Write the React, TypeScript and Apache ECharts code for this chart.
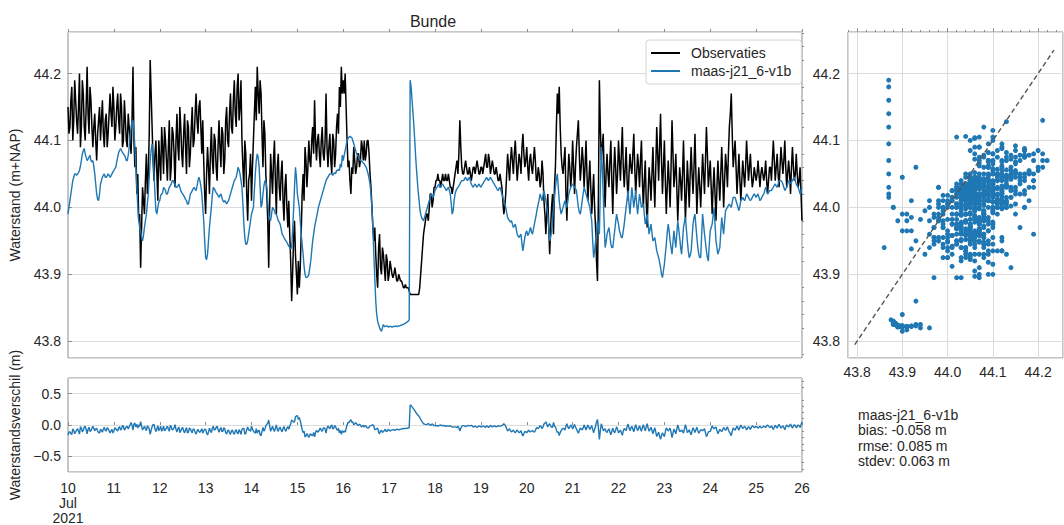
import { useEffect, useRef } from "react";
import * as echarts from "echarts";

// ---- texts ----
const stationName = "Bunde";
const observationLabel = "Observaties";
const modelLabel = "maas-j21_6-v1b";
const levelAxisName = "Waterstand (m+NAP)";
const diffAxisName = "Waterstandsverschil (m)";
const statLines = ["maas-j21_6-v1b", "bias: -0.058 m", "rmse: 0.085 m", "stdev: 0.063 m"];

// ---- time axis: hours counted from 10 Jul 2021 00:00 ----
const firstDay = 10;
const monthLabel = "Jul";
const yearLabel = "2021";
const hoursPerDay = 24;

// ---- axis ranges and ticks ----
const levelTicks = [43.8, 43.9, 44.0, 44.1, 44.2];
const levelRange = [43.775, 44.262];
const scatterXRange = [43.78, 44.255];
const diffTicks = [-0.5, 0, 0.5];
const diffMinorTicks = [-0.7, -0.6, -0.4, -0.3, -0.2, -0.1, 0.1, 0.2, 0.3, 0.4, 0.6, 0.7];
const diffRange = [-0.75, 0.75];
const oneToOneLine = [43.795, 44.235];

// ---- observed water level (m+NAP), on the hour (00:00 ... 26 Jul 00:00) ----
const observedOnHour = [
  44.15, 44.12, 44.18, 44.13, 44.16, 44.11, 44.2, 44.12, 44.17, 44.1, 44.21, 44.11, 44.16, 44.09, 44.14, 44.07, 44.13, 44.1, 44.16, 44.09, 44.14, 44.11, 44.17, 44.12, 44.15,
  44.12, 44.17, 44.11, 44.15, 44.1, 44.13, 44.09, 44.12, 44.08, 44.21, 44.06, 44.02, 43.98, 43.91, 44.03, 43.99, 44.08, 44.05, 44.22, 44.12, 44.04, 44.1, 44.01, 44.07,
  44.12, 44.05, 44.1, 44.04, 44.13, 44.06, 44.11, 44.03, 44.14, 44.07, 44.12, 44.06, 44.14, 44.05, 44.12, 44.08, 44.15, 44.1, 44.17, 44.11, 44.16, 44.08, 44.07, 43.99,
  44.09, 44.02, 44.12, 44.05, 44.1, 44.04, 44.13, 44.06, 44.11, 44.07, 44.15, 44.09, 44.17, 44.11, 44.19, 44.12, 44.2, 44.15, 44.1, 44.03, 44.08, 43.98, 44.05, 44.01,
  44.1, 44.18, 44.21, 44.14, 44.17, 44.06, 44.11, 44.02, 43.91, 44.08, 44.02, 44.1, 43.99, 44.08, 44.01, 44.07, 43.98, 44.05, 43.97, 43.96, 43.86, 43.95, 43.93, 43.87,
  43.88, 43.96, 44.05, 44.09, 44.03, 44.1, 44.06, 44.12, 44.16, 44.07, 44.11, 44.06, 44.12, 44.07, 44.17, 44.06, 44.11, 44.05, 44.1, 44.08, 44.14, 44.18, 44.21, 44.19,
  44.2, 44.1, 44.07, 44.02, 44.05, 44.07, 44.06, 44.08, 44.07, 44.09, 44.1, 44.08, 44.1, 44.05, 44.0, 43.95, 43.93, 43.88, 43.96, 43.9, 43.93, 43.89, 43.92, 43.9,
  43.91, 43.895, 43.91, 43.89, 43.9, 43.89, 43.885, 43.88, 43.88, 43.88, 43.87, 43.87, 43.87, 43.87, 43.87, 43.88, 43.92, 43.96, 43.98, 43.99, 44.0, 44.02, 44.01, 44.03,
  44.04, 44.04, 44.03, 44.05, 44.04, 44.04, 44.05, 44.03, 44.02, 44.04, 44.06, 44.05, 44.13, 44.06, 44.05, 44.07, 44.05, 44.06, 44.04, 44.06, 44.05, 44.07, 44.05, 44.06,
  44.05, 44.07, 44.06, 44.08, 44.05, 44.07, 44.05, 44.06, 44.04, 44.05, 44.03, 43.99, 44.02, 44.08, 44.04, 44.09, 44.05, 44.1, 44.04, 44.08, 44.05, 44.11, 44.06, 44.09,
  44.04, 44.08, 44.05, 44.09, 44.04, 44.06, 44.03, 44.07, 44.01, 43.96, 44.02, 43.93, 44.0, 43.96, 44.06, 44.17, 44.18, 44.08, 44.05, 44.09, 43.98, 44.08, 44.03, 44.1,
  44.02, 44.09, 44.13, 44.04, 44.09, 44.03, 44.1, 44.01, 44.07, 43.99, 44.05, 43.97, 43.89, 44.19, 44.07, 44.11, 44.0, 44.08, 44.03, 44.1, 43.99, 44.09, 44.02, 44.1,
  44.04, 44.12, 44.03, 44.09, 44.01, 44.08, 44.05, 44.11, 44.02, 44.08, 44.03, 44.1, 44.0, 44.07, 43.97, 44.06, 44.01, 44.09, 44.0, 44.12, 44.04, 44.14, 44.02, 44.1,
  43.99, 44.07, 44.0, 44.13, 44.03, 44.08, 43.98, 44.06, 44.01, 44.1, 43.98, 44.07, 44.0, 44.09, 44.02, 44.11, 43.99, 44.06, 44.0, 44.08, 44.02, 44.12, 44.03, 44.07,
  43.99, 44.06, 43.98, 44.07, 44.01, 44.09, 44.0, 44.08, 44.03, 44.12, 44.17, 44.06, 44.1, 44.02, 44.08, 44.01, 44.07, 44.03, 44.1, 44.04, 44.08, 44.03, 44.06, 44.04,
  44.07, 44.03, 44.06, 44.04, 44.07, 44.02, 44.06, 44.04, 44.1, 44.04, 44.08, 44.03, 44.09, 44.05, 44.1, 44.03, 44.07, 44.02, 44.09, 44.04, 44.08, 44.03, 44.06, 43.98,
];

// observed water level (m+NAP), half past each hour (00:30 ... 25 Jul 23:30), one row per day
const observedHalfPast = [
  44.11, 44.16, 44.1, 44.19, 44.13, 44.15, 44.09, 44.19, 44.12, 44.15, 44.14, 44.18, 44.12, 44.12, 44.1, 44.11, 44.15, 44.13, 44.11, 44.13, 44.09, 44.14, 44.14, 44.18,
  44.1, 44.15, 44.13, 44.17, 44.09, 44.16, 44.1, 44.14, 44.1, 44.13, 44.1, 44.09, 44.05, 43.99, 43.97, 44.01, 44.04, 44.02, 44.11, 44.17, 44.07, 44.08, 44.05, 44.1,
  44.04, 44.09, 44.12, 44.07, 44.09, 44.04, 44.12, 44.08, 44.1, 44.09, 44.15, 44.08, 44.11, 44.09, 44.13, 44.06, 44.12, 44.09, 44.14, 44.13, 44.15, 44.12, 44.13, 44.02,
  44.05, 44.06, 44.08, 44.07, 44.11, 44.06, 44.09, 44.09, 44.12, 44.05, 44.13, 44.1, 44.14, 44.12, 44.16, 44.14, 44.18, 44.13, 44.19, 44.06, 44.1, 44.02, 44.04, 44.08,
  44.06, 44.14, 44.13, 44.17, 44.19, 44.11, 44.13, 44.05, 43.98, 44.0, 44.05, 44.07, 44.04, 44.06, 44.03, 44.05, 44.01, 44.03, 44.0, 44.01, 43.92, 43.9, 43.98, 43.9,
  43.92, 43.91, 44.02, 44.01, 44.07, 44.06, 44.07, 44.1, 44.08, 44.1, 44.1, 44.08, 44.1, 44.08, 44.1, 44.09, 44.09, 44.07, 44.11, 44.06, 44.12, 44.11, 44.15, 44.17,
  44.17, 44.15, 44.06, 44.04, 44.06, 44.09, 44.05, 44.08, 44.06, 44.1, 44.07, 44.07, 44.1, 44.08, 44.03, 43.97, 43.97, 43.9, 43.94, 43.91, 43.94, 43.91, 43.93, 43.89,
  43.92, 43.9, 43.9, 43.9, 43.89, 43.895, 43.89, 43.88, 43.885, 43.88, 43.875, 43.87, 43.87, 43.87, 43.87, 43.87, 43.9, 43.94, 43.97, 43.99, 43.98, 44.02, 44.0, 44.03,
  44.04, 44.05, 44.04, 44.04, 44.04, 44.05, 44.04, 44.04, 44.03, 44.03, 44.05, 44.07, 44.08, 44.09, 44.05, 44.06, 44.06, 44.05, 44.05, 44.05, 44.06, 44.06, 44.06, 44.05,
  44.06, 44.06, 44.08, 44.06, 44.07, 44.06, 44.06, 44.05, 44.05, 44.04, 44.04, 44.01, 44.0, 44.05, 44.06, 44.07, 44.07, 44.08, 44.07, 44.06, 44.07, 44.09, 44.08, 44.07,
  44.06, 44.07, 44.06, 44.07, 44.07, 44.04, 44.05, 44.04, 44.05, 43.99, 43.99, 43.97, 43.97, 44.02, 44.03, 44.12, 44.14, 44.12, 44.06, 44.07, 44.02, 44.04, 44.06, 44.05,
  44.06, 44.06, 44.11, 44.08, 44.06, 44.07, 44.06, 44.05, 44.04, 44.03, 44.02, 44.0, 43.92, 44.02, 44.12, 44.09, 44.05, 44.05, 44.05, 44.07, 44.04, 44.05, 44.06, 44.05,
  44.07, 44.08, 44.06, 44.06, 44.04, 44.05, 44.06, 44.08, 44.06, 44.05, 44.06, 44.07, 44.04, 44.04, 44.01, 44.02, 44.04, 44.05, 44.04, 44.06, 44.08, 44.09, 44.07, 44.06,
  44.04, 44.03, 44.04, 44.06, 44.08, 44.05, 44.03, 44.02, 44.04, 44.05, 44.04, 44.02, 44.04, 44.05, 44.05, 44.06, 44.05, 44.03, 44.03, 44.04, 44.05, 44.07, 44.08, 44.05,
  44.03, 44.03, 44.02, 44.03, 44.04, 44.05, 44.05, 44.04, 44.06, 44.08, 44.14, 44.11, 44.08, 44.06, 44.05, 44.04, 44.04, 44.05, 44.06, 44.07, 44.06, 44.05, 44.04, 44.05,
  44.05, 44.05, 44.05, 44.05, 44.05, 44.04, 44.04, 44.06, 44.07, 44.07, 44.06, 44.05, 44.06, 44.07, 44.07, 44.06, 44.05, 44.05, 44.06, 44.06, 44.05, 44.05, 44.04, 44.02,
];

// ---- modelled water level maas-j21_6-v1b (m+NAP), on the hour ----
const modelledOnHour = [
  43.99, 44.01, 44.03, 44.045, 44.05, 44.05, 44.055, 44.07, 44.085, 44.08, 44.07, 44.075, 44.07, 44.07, 44.05, 44.02, 44.01, 44.035, 44.045, 44.05, 44.045, 44.05, 44.045, 44.05, 44.055,
  44.06, 44.075, 44.085, 44.085, 44.08, 44.075, 44.07, 44.09, 44.12, 44.13, 44.09, 44.03, 43.98, 43.965, 43.95, 43.97, 43.99, 44.02, 44.07, 44.095, 44.05, 43.995, 44.0, 44.01,
  44.02, 44.03, 44.025, 44.02, 44.03, 44.035, 44.04, 44.035, 44.03, 44.035, 44.025, 44.02, 44.015, 44.01, 44.005, 44.02, 44.025, 44.03, 44.025, 44.04, 44.04, 44.02, 43.98, 43.925,
  43.93, 43.97, 44.0, 44.03, 44.025, 44.02, 44.015, 44.02, 44.01, 44.01, 44.005, 44.01, 44.02, 44.03, 44.04, 44.045, 44.06, 44.05, 44.03, 43.975, 43.945, 43.95, 43.97, 43.99,
  44.0, 44.05, 44.08, 44.06, 44.0, 44.02, 44.04, 44.03, 43.99, 43.98, 44.0, 43.995, 43.99, 43.98, 43.975, 43.96, 43.955, 43.95, 43.945, 43.94, 43.94, 43.995, 44.06, 44.02,
  44.0, 43.96, 43.93, 43.9, 43.895, 43.9, 43.92, 43.95, 43.97, 43.985, 44.0, 44.01, 44.02, 44.03, 44.04, 44.045, 44.05, 44.05, 44.05, 44.05, 44.055, 44.055, 44.06, 44.07,
  44.085, 44.1, 44.105, 44.105, 44.1, 44.09, 44.08, 44.075, 44.07, 44.068, 44.065, 44.06, 44.05, 44.035, 44.0, 43.93, 43.86, 43.83, 43.82, 43.815, 43.825, 43.822, 43.823, 43.822,
  43.822, 43.822, 43.822, 43.822, 43.823, 43.824, 43.825, 43.826, 43.828, 43.83, 44.19, 44.16, 44.12, 44.07, 44.03, 44.0, 43.985, 43.98, 43.99, 44.0, 44.01, 44.02, 44.015, 44.025,
  44.03, 44.035, 44.03, 44.035, 44.03, 44.025, 44.03, 44.02, 43.99, 44.01, 44.025, 44.03, 44.035, 44.04, 44.04, 44.045, 44.04, 44.045, 44.035, 44.03, 44.035, 44.03, 44.035, 44.03,
  44.035, 44.04, 44.045, 44.04, 44.045, 44.04, 44.035, 44.03, 44.025, 44.03, 44.02, 44.01, 44.0, 43.985, 43.98, 43.98, 43.97, 43.975, 43.96, 43.955, 43.96, 43.935, 43.955, 43.965,
  43.96, 43.97, 43.96, 43.975, 43.99, 44.005, 44.02, 44.01, 44.025, 44.01, 43.99, 43.95, 43.965, 44.0, 44.03, 44.05, 44.01, 43.99, 44.0, 44.01, 44.0, 44.02, 44.03, 44.035,
  44.03, 44.025, 44.0, 43.99, 44.01, 44.03, 44.02, 44.01, 44.0, 43.98, 43.925, 43.95, 43.98, 43.96, 44.09, 44.02, 43.94, 43.96, 43.97, 43.945, 43.94, 43.965, 43.99, 43.975,
  43.96, 43.955, 43.975, 44.0, 44.025, 43.99, 44.03, 44.0, 44.025, 43.99, 44.02, 44.0, 44.005, 43.975, 43.99, 43.96, 43.975, 43.95, 43.955, 43.935, 43.925, 43.91, 43.895, 43.915,
  43.945, 43.975, 43.95, 43.93, 43.965, 43.94, 43.98, 43.955, 43.93, 43.97, 43.985, 43.95, 43.925, 43.935, 43.975, 43.99, 43.955, 43.93, 43.925, 43.99, 43.96, 43.935, 43.92, 43.965,
  43.975, 44.0, 43.95, 43.93, 43.94, 43.985, 43.96, 43.995, 44.0, 44.005, 44.0, 44.015, 44.015, 44.005, 43.995, 44.01, 44.015, 44.01, 44.02, 44.015, 44.01, 44.015, 44.02, 44.015,
  44.02, 44.01, 44.015, 44.02, 44.03, 44.02, 44.025, 44.025, 44.03, 44.035, 44.03, 44.04, 44.04, 44.035, 44.025, 44.03, 44.04, 44.035, 44.04, 44.045, 44.035, 44.03, 44.02, 44.03,
];

// modelled water level (m+NAP), half past each hour, one row per day
const modelledHalfPast = [
  44.0, 44.02, 44.04, 44.05, 44.048, 44.052, 44.062, 44.08, 44.088, 44.075, 44.072, 44.078, 44.068, 44.062, 44.035, 44.012, 44.02, 44.04, 44.048, 44.045, 44.047, 44.048, 44.047, 44.053,
  44.058, 44.068, 44.082, 44.088, 44.082, 44.078, 44.07, 44.078, 44.105, 44.128, 44.115, 44.06, 44.0, 43.97, 43.955, 43.958, 43.98, 44.005, 44.045, 44.085, 44.075, 44.02, 43.99, 44.008,
  44.018, 44.022, 44.028, 44.02, 44.025, 44.032, 44.04, 44.036, 44.03, 44.032, 44.03, 44.022, 44.018, 44.012, 44.005, 44.012, 44.022, 44.028, 44.027, 44.032, 44.045, 44.032, 44.0, 43.95,
  43.922, 43.95, 43.985, 44.018, 44.028, 44.022, 44.018, 44.018, 44.015, 44.008, 44.008, 44.008, 44.015, 44.025, 44.035, 44.042, 44.052, 44.056, 44.04, 44.005, 43.955, 43.945, 43.96, 43.98,
  43.995, 44.025, 44.07, 44.075, 44.03, 44.005, 44.032, 44.038, 44.01, 43.982, 43.99, 43.998, 43.99, 43.985, 43.978, 43.968, 43.958, 43.952, 43.948, 43.942, 43.938, 43.965, 44.03, 44.045,
  44.01, 43.98, 43.945, 43.912, 43.895, 43.897, 43.91, 43.935, 43.96, 43.978, 43.992, 44.005, 44.015, 44.025, 44.035, 44.043, 44.048, 44.05, 44.048, 44.052, 44.055, 44.057, 44.065, 44.078,
  44.078, 44.092, 44.103, 44.106, 44.104, 44.095, 44.085, 44.078, 44.072, 44.069, 44.066, 44.062, 44.055, 44.043, 44.02, 43.97, 43.895, 43.84, 43.825, 43.817, 43.82, 43.822, 43.823, 43.821,
  43.822, 43.821, 43.822, 43.823, 43.822, 43.823, 43.824, 43.825, 43.827, 43.829, 43.832, 44.18, 44.14, 44.095, 44.05, 44.015, 43.99, 43.982, 43.985, 43.995, 44.005, 44.015, 44.018, 44.02,
  44.028, 44.032, 44.03, 44.034, 44.032, 44.027, 44.028, 44.025, 44.005, 43.995, 44.02, 44.028, 44.032, 44.038, 44.04, 44.043, 44.042, 44.043, 44.04, 44.032, 44.033, 44.032, 44.033, 44.032,
  44.033, 44.038, 44.042, 44.042, 44.043, 44.042, 44.037, 44.032, 44.027, 44.028, 44.025, 44.015, 44.005, 43.992, 43.982, 43.978, 43.975, 43.972, 43.968, 43.957, 43.958, 43.945, 43.945, 43.962,
  43.958, 43.965, 43.963, 43.968, 43.982, 43.998, 44.012, 44.015, 44.018, 44.018, 44.0, 43.97, 43.955, 43.982, 44.015, 44.042, 44.03, 43.998, 43.995, 44.005, 44.005, 44.01, 44.025, 44.033,
  44.032, 44.028, 44.012, 43.993, 43.998, 44.02, 44.025, 44.015, 44.005, 43.99, 43.95, 43.935, 43.965, 43.97, 44.03, 44.06, 43.975, 43.948, 43.965, 43.958, 43.94, 43.952, 43.978, 43.982,
  43.965, 43.955, 43.965, 43.988, 44.012, 44.005, 44.01, 44.015, 44.012, 44.005, 44.005, 44.01, 44.003, 43.99, 43.982, 43.975, 43.968, 43.962, 43.952, 43.945, 43.93, 43.918, 43.9, 43.905,
  43.93, 43.962, 43.965, 43.94, 43.948, 43.952, 43.96, 43.968, 43.94, 43.95, 43.978, 43.968, 43.935, 43.928, 43.955, 43.985, 43.972, 43.94, 43.925, 43.958, 43.975, 43.948, 43.925, 43.945,
  43.97, 43.988, 43.975, 43.94, 43.935, 43.962, 43.972, 43.978, 43.998, 44.003, 44.002, 44.008, 44.015, 44.01, 44.0, 44.002, 44.012, 44.012, 44.015, 44.018, 44.012, 44.012, 44.018, 44.018,
  44.018, 44.015, 44.012, 44.018, 44.025, 44.025, 44.022, 44.025, 44.028, 44.033, 44.032, 44.035, 44.04, 44.038, 44.03, 44.028, 44.035, 44.038, 44.038, 44.043, 44.04, 44.032, 44.025, 44.025,
];

// ---- styling ----
const FONT = "'Liberation Sans', Arial, Helvetica, sans-serif";
const TEXT = "#262626";
const SPINE = "#8c8c8c";
const GRIDLINE = "#dcdcdc";
const BLUE = "#1f77b4";

// merge the on-the-hour and half-past readings into one half-hourly record
function halfHourly(onHour: number[], halfPast: number[]): [number, number][] {
  const out: [number, number][] = [];
  onHour.forEach((v, i) => {
    out.push([i, v]);
    if (i < halfPast.length) out.push([i + 0.5, halfPast[i]]);
  });
  return out;
}

const lastHour = observedOnHour.length - 1;

function stepTicks(from: number, to: number, step: number): number[] {
  const out: number[] = [];
  const n = Math.round((to - from) / step);
  for (let k = 0; k <= n; k++) out.push(Math.round((from + k * step) * 1000) / 1000);
  return out;
}
const notMajor = (v: number) => !levelTicks.some((t) => Math.abs(t - v) < 1e-6);
const levelMinorTicks = stepTicks(43.78, 44.26, 0.02).filter(notMajor);
const scatterMinorTicks = stepTicks(43.78, 44.24, 0.02).filter(notMajor);

const isMultiple = (v: number, step: number) =>
  Math.abs(v / step - Math.round(v / step)) < 1e-6;

const levelFormatter = (v: number) => (isMultiple(v, 0.1) ? v.toFixed(1) : "");
const diffFormatter = (v: number) =>
  isMultiple(v, 0.5) ? (v < 0 ? "\u2212" : "") + Math.abs(v).toFixed(1) : "";
const dayFormatter = (v: number) => {
  const day = firstDay + v / hoursPerDay;
  return v === 0 ? `${day}\n${monthLabel}\n${yearLabel}` : String(day);
};

const labelStyle = { color: TEXT, fontSize: 14, fontFamily: FONT };

function buildOption() {
  const obsPts = halfHourly(observedOnHour, observedHalfPast);
  const modPts = halfHourly(modelledOnHour, modelledHalfPast);
  const diffPts = modPts.map(([t, v], i) => [t, Math.round((v - obsPts[i][1]) * 1000) / 1000]);
  const scatterPts = obsPts.map(([, v], i) => [v, modPts[i][1]]);

  const hidden = { show: false };
  const timeAxisBase = {
    type: "value",
    min: 0,
    max: lastHour,
    interval: hoursPerDay,
    axisLine: hidden,
    splitLine: hidden,
  };
  const tickOnly = (extra: any) => ({
    axisLine: hidden,
    axisLabel: hidden,
    splitLine: hidden,
    ...extra,
  });
  const frame = { show: true, borderColor: SPINE, borderWidth: 1, backgroundColor: "transparent" };

  return {
    animation: false,
    backgroundColor: "#ffffff",
    textStyle: { fontFamily: FONT },
    grid: [
      { left: 64, top: 32, width: 738, height: 326, ...frame },
      { left: 64, top: 378, width: 738, height: 96, ...frame },
      { left: 848, top: 32, width: 215, height: 326, ...frame },
    ],
    legend: {
      orient: "vertical",
      left: 646,
      top: 40,
      padding: [6, 10, 6, 5],
      itemGap: 4,
      itemWidth: 29,
      itemHeight: 2,
      borderColor: "#d4d4d4",
      borderWidth: 1,
      borderRadius: 3,
      backgroundColor: "rgba(255,255,255,0.85)",
      textStyle: { fontSize: 14, color: TEXT, fontFamily: FONT, padding: [0, 0, 0, 6] },
      data: [
        { name: observationLabel, icon: "rect" },
        { name: modelLabel, icon: "rect" },
      ],
    },
    graphic: [
      {
        type: "text",
        x: 433,
        y: 21,
        style: { text: stationName, fill: TEXT, fontSize: 16, fontFamily: FONT, align: "center", verticalAlign: "middle" },
      },
      {
        type: "text",
        x: 858,
        y: 407,
        style: { text: statLines.join("\n"), fill: TEXT, fontSize: 14, fontFamily: FONT, lineHeight: 15.5, align: "left", verticalAlign: "top" },
      },
    ],
    xAxis: [
      // 0: time, main panel (labels are shown under the difference panel)
      { ...timeAxisBase, gridIndex: 0, axisTick: hidden, axisLabel: hidden },
      // 1: day ticks along the top of the main panel
      { ...timeAxisBase, gridIndex: 0, position: "top", axisLabel: hidden, axisTick: { show: true, length: 3, lineStyle: { color: SPINE } } },
      // 2: day labels under the difference panel
      {
        ...timeAxisBase,
        gridIndex: 1,
        axisTick: hidden,
        axisLabel: { ...labelStyle, margin: 8, lineHeight: 15, formatter: dayFormatter, showMinLabel: true, showMaxLabel: true },
      },
      // 3: day ticks along the top of the difference panel
      { ...timeAxisBase, gridIndex: 1, position: "top", axisLabel: hidden, axisTick: { show: true, length: 3, lineStyle: { color: SPINE } } },
      // 4: scatter, observed level
      {
        type: "value",
        gridIndex: 2,
        min: scatterXRange[0],
        max: scatterXRange[1],
        splitNumber: 5,
        axisLine: hidden,
        axisTick: hidden,
        axisLabel: { ...labelStyle, margin: 7, formatter: levelFormatter, showMinLabel: false, showMaxLabel: false },
        splitLine: { show: true, lineStyle: { color: GRIDLINE, width: 1 } },
      },
      // 5: scatter, major ticks on top
      tickOnly({
        type: "value",
        gridIndex: 2,
        position: "top",
        min: scatterXRange[0],
        max: scatterXRange[1],
        axisTick: { show: true, length: 4, customValues: levelTicks, lineStyle: { color: SPINE } },
      }),
      // 6: scatter, minor ticks on top
      tickOnly({
        type: "value",
        gridIndex: 2,
        position: "top",
        min: scatterXRange[0],
        max: scatterXRange[1],
        axisTick: { show: true, length: 2, customValues: scatterMinorTicks, lineStyle: { color: SPINE } },
      }),
    ],
    yAxis: [
      // 0: water level, main panel
      {
        type: "value",
        gridIndex: 0,
        min: levelRange[0],
        max: levelRange[1],
        splitNumber: 5,
        axisLine: hidden,
        axisTick: hidden,
        axisLabel: { ...labelStyle, margin: 7, formatter: levelFormatter, showMinLabel: false, showMaxLabel: false },
        splitLine: { show: true, lineStyle: { color: GRIDLINE, width: 1 } },
        name: levelAxisName,
        nameLocation: "middle",
        nameGap: 46,
        nameTextStyle: { ...labelStyle },
      },
      // 1: right-hand major ticks, main panel
      tickOnly({
        type: "value",
        gridIndex: 0,
        position: "right",
        min: levelRange[0],
        max: levelRange[1],
        axisTick: { show: true, length: 4, customValues: levelTicks, lineStyle: { color: SPINE } },
      }),
      // 2: level difference
      {
        type: "value",
        gridIndex: 1,
        min: diffRange[0],
        max: diffRange[1],
        splitNumber: 3,
        axisLine: hidden,
        axisTick: hidden,
        axisLabel: { ...labelStyle, margin: 7, formatter: diffFormatter, showMinLabel: false, showMaxLabel: false },
        splitLine: { show: true, lineStyle: { color: GRIDLINE, width: 1 } },
        name: diffAxisName,
        nameLocation: "middle",
        nameGap: 46,
        nameTextStyle: { ...labelStyle },
      },
      // 3: right-hand major ticks, difference panel
      tickOnly({
        type: "value",
        gridIndex: 1,
        position: "right",
        min: diffRange[0],
        max: diffRange[1],
        axisTick: { show: true, length: 4, customValues: diffTicks, lineStyle: { color: SPINE } },
      }),
      // 4: scatter, modelled level
      {
        type: "value",
        gridIndex: 2,
        min: levelRange[0],
        max: levelRange[1],
        splitNumber: 5,
        axisLine: hidden,
        axisTick: hidden,
        axisLabel: { ...labelStyle, margin: 8, formatter: levelFormatter, showMinLabel: false, showMaxLabel: false },
        splitLine: { show: true, lineStyle: { color: GRIDLINE, width: 1 } },
      },
      // 5: right-hand minor ticks, main panel
      tickOnly({
        type: "value",
        gridIndex: 0,
        position: "right",
        min: levelRange[0],
        max: levelRange[1],
        axisTick: { show: true, length: 2, customValues: levelMinorTicks, lineStyle: { color: SPINE } },
      }),
      // 6: right-hand minor ticks, difference panel
      tickOnly({
        type: "value",
        gridIndex: 1,
        position: "right",
        min: diffRange[0],
        max: diffRange[1],
        axisTick: { show: true, length: 2, customValues: diffMinorTicks, lineStyle: { color: SPINE } },
      }),
    ],
    series: [
      {
        name: observationLabel,
        type: "line",
        xAxisIndex: 0,
        yAxisIndex: 0,
        data: obsPts,
        symbol: "none",
        itemStyle: { color: "#000000" },
        lineStyle: { color: "#000000", width: 1.5 },
        z: 2,
      },
      {
        name: modelLabel,
        type: "line",
        xAxisIndex: 0,
        yAxisIndex: 0,
        data: modPts,
        symbol: "none",
        itemStyle: { color: BLUE },
        lineStyle: { color: BLUE, width: 1.4 },
        z: 3,
      },
      {
        name: "verschil",
        type: "line",
        xAxisIndex: 2,
        yAxisIndex: 2,
        data: diffPts,
        symbol: "none",
        itemStyle: { color: BLUE },
        lineStyle: { color: BLUE, width: 1.4 },
      },
      {
        name: "spreiding",
        type: "scatter",
        xAxisIndex: 4,
        yAxisIndex: 4,
        data: scatterPts,
        symbolSize: 5,
        itemStyle: { color: BLUE, opacity: 1 },
      },
      {
        name: "1:1",
        type: "line",
        xAxisIndex: 4,
        yAxisIndex: 4,
        data: [
          [oneToOneLine[0], oneToOneLine[0]],
          [oneToOneLine[1], oneToOneLine[1]],
        ],
        symbol: "none",
        lineStyle: { color: "#555555", width: 1.4, type: [5, 3] },
        z: 4,
      },
    ],
  };
}

export default function App() {
  const ref = useRef<HTMLDivElement>(null);
  useEffect(() => {
    if (!ref.current) return;
    const chart = echarts.init(ref.current, undefined, { renderer: "svg" });
    chart.setOption(buildOption() as any);
    return () => chart.dispose();
  }, []);
  return (
    <div
      ref={ref}
      style={{ position: "absolute", left: 0, top: 0, width: "1064px", height: "525px", background: "#fff" }}
    />
  );
}
